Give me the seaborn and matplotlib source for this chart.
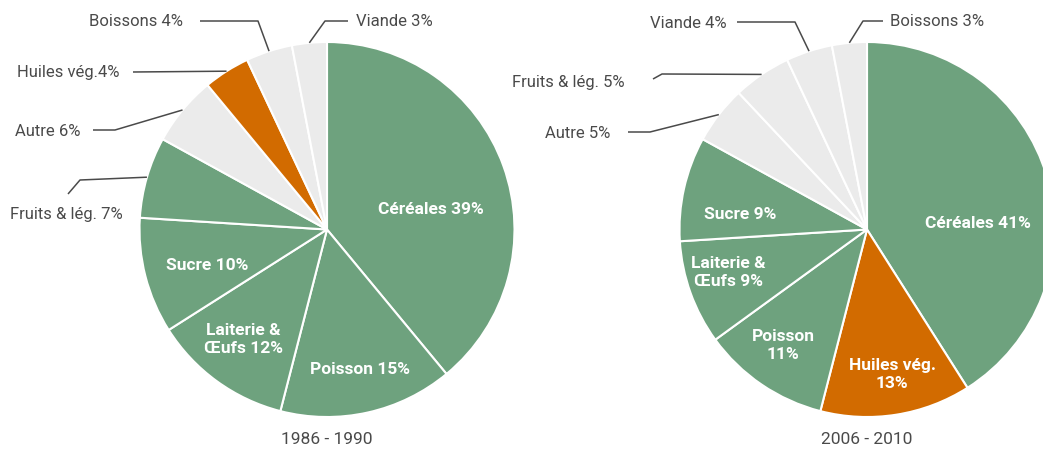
import numpy as np
import matplotlib
matplotlib.use("Agg")
import matplotlib.pyplot as plt
import seaborn as sns
from matplotlib import font_manager

sns.set_theme(style="white")

# ---- data ----
cats_1 = ["Céréales", "Poisson", "Laiterie & Œufs", "Sucre", "Fruits & lég.", "Autre", "Huiles vég.", "Boissons", "Viande"]
vals_1 = [39, 15, 12, 10, 7, 6, 4, 4, 3]
cats_2 = ["Céréales", "Huiles vég.", "Poisson", "Laiterie & Œufs", "Sucre", "Autre", "Fruits & lég.", "Viande", "Boissons"]
vals_2 = [41, 13, 11, 9, 9, 5, 5, 4, 3]
titles = ["1986 - 1990", "2006 - 2010"]

inner_1 = ["Céréales 39%", "Poisson 15%", "Laiterie &\nŒufs 12%", "Sucre 10%"]
inner_2 = ["Céréales 41%", "Huiles vég.\n13%", "Poisson\n11%", "Laiterie &\nŒufs 9%", "Sucre 9%"]
outer_1 = ["Fruits & lég. 7%", "Autre 6%", "Huiles vég.4%", "Boissons 4%", "Viande 3%"]
outer_2 = ["Autre 5%", "Fruits & lég. 5%", "Viande 4%", "Boissons 3%"]

GREEN = "#6ea27e"
ORANGE = "#d26b00"
GREY = "#ebebeb"
TXT = "#4a4a4a"

def colour(c, idx, n_green):
    if c == "Huiles vég.":
        return ORANGE
    return GREEN if idx < n_green else GREY

avail = {f.name for f in font_manager.fontManager.ttflist}
FAM = ["Liberation Sans Narrow"] if "Liberation Sans Narrow" in avail else ["Roboto"]
plt.rcParams["font.family"] = FAM + ["DejaVu Sans"]

W, H = 1043, 452
fig = plt.figure(figsize=(W / 100, H / 100), dpi=100)
ax = fig.add_axes([0, 0, 1, 1])
ax.set_xlim(0, W)
ax.set_ylim(0, H)
ax.set_aspect("equal")
ax.axis("off")

R = 187.5
centers = [(327, H - 230.5), (867, H - 230.5)]

def py(y):
    return H - y

def draw_pie(cats, vals, center, n_green, inner_labels, inner_pos):
    cols = [colour(c, i, n_green) for i, c in enumerate(cats)]
    wedges, _ = ax.pie(vals, colors=cols, startangle=90, counterclock=False,
                       center=center, radius=R,
                       wedgeprops=dict(edgecolor="white", linewidth=1.5))
    for lab, (x, y) in zip(inner_labels, inner_pos):
        ax.text(x, py(y), lab, color="white", fontsize=12.5, fontweight="bold",
                ha="center", va="center", linespacing=1.25)
    return wedges

def anchor(w, center):
    th = np.deg2rad((w.theta1 + w.theta2) / 2)
    return center[0] + R * np.cos(th), center[1] + R * np.sin(th)

def outside(w, center, pts, text, tx, ty, ha):
    ax0, ay0 = anchor(w, center)
    xs = [ax0] + [p[0] for p in pts]
    ys = [ay0] + [py(p[1]) for p in pts]
    ax.plot(xs, ys, color=TXT, lw=1.1, solid_capstyle="butt")
    ax.text(tx, py(ty), text, color=TXT, fontsize=12, ha=ha, va="center")

# Left pie
w1 = draw_pie(cats_1, vals_1, centers[0], 5, inner_1,
              [(431, 210), (360, 370), (243, 340), (207, 265)])
c = centers[0]
outside(w1[4], c, [(80, 181), (68, 195)], outer_1[0], 10, 215, "left")
outside(w1[5], c, [(115, 131), (93, 131)], outer_1[1], 80, 131, "right")
outside(w1[6], c, [(133, 73)], outer_1[2], 119, 73, "right")
outside(w1[7], c, [(258, 22), (200, 22)], outer_1[3], 183, 22, "right")
outside(w1[8], c, [(325, 22), (348, 22)], outer_1[4], 356, 22, "left")

# Right pie
w2 = draw_pie(cats_2, vals_2, centers[1], 5, inner_2,
              [(978, 224), (892, 375), (783, 346), (728, 273), (740, 215)])
c = centers[1]
outside(w2[5], c, [(650, 133), (628, 133)], outer_2[0], 610, 133, "right")
outside(w2[6], c, [(662, 75), (653, 80)], outer_2[1], 625, 83, "right")
outside(w2[7], c, [(795, 23), (737, 23)], outer_2[2], 727, 23, "right")
outside(w2[8], c, [(863, 22), (883, 22)], outer_2[3], 890, 22, "left")

for (cx, cy), t in zip(centers, titles):
    ax.text(cx, py(440), t, color=TXT, fontsize=12.5, ha="center", va="center")

ax.set_xlim(0, W)
ax.set_ylim(0, H)
fig.savefig("out.png", dpi=100, facecolor="white")
